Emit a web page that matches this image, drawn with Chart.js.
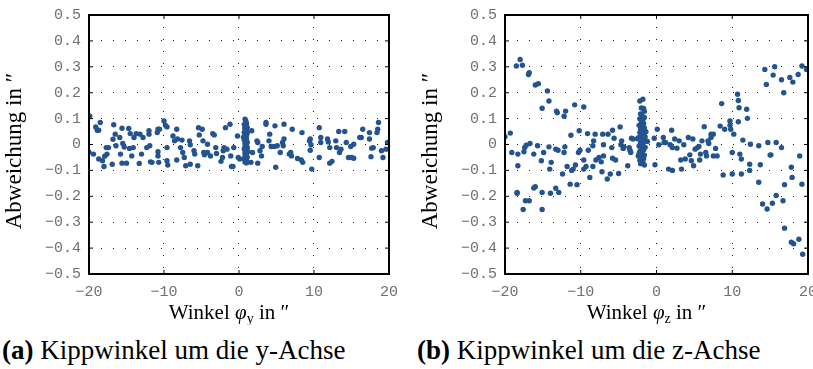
<!DOCTYPE html>
<html>
<head>
<meta charset="utf-8">
<script src="https://cdn.jsdelivr.net/npm/chart.js@4.4.1/dist/chart.umd.min.js"></script>
<style>
  html, body { margin: 0; padding: 0; background: #fff; overflow: hidden; }
  body { width: 813px; height: 369px; position: relative; }
  .box { position: absolute; top: -2px; height: 327px; }
  #boxA { left: 0; width: 407px; }
  #boxB { left: 416px; width: 410px; }
  .cap { position: absolute; top: 337px; font-family: 'Liberation Serif', 'DejaVu Serif', serif; font-size: 27px; line-height: 1; color: #000; white-space: nowrap; }
  #capA { left: 2px; }
  #capB { left: 417px; }
</style>
</head>
<body>
<div class="box" id="boxA"><canvas id="chartA"></canvas></div>
<div class="box" id="boxB"><canvas id="chartB"></canvas></div>
<div class="cap" id="capA"><b>(a)</b> Kippwinkel um die y-Achse</div>
<div class="cap" id="capB"><b>(b)</b> Kippwinkel um die z-Achse</div>
<script>
// ----- data -----
const xTicks = [-20, -10, 0, 10, 20];
const yTicks = [-0.5, -0.4, -0.3, -0.2, -0.1, 0, 0.1, 0.2, 0.3, 0.4, 0.5];

// (a) tilt around y axis
const leftX = [
  -19.9, -20, -19.4, -19.1, -18.9, -18.7, -18.5, -18.7, -18.2, -18, -17.9, -17.7, -17.4, -17.6,
  -16.9, -16.7, -16.8, -16.5, -16.4, -15.9, -15.8, -15.6, -15.5, -15.6, -15.0, -15.3, -14.7, -14.6,
  -14.5, -14.3, -14, -14.1, -13.7, -13.3, -13.2, -13.0, -12.8, -12.3, -12.0, -12.0, -11.9, -11.8,
  -11.6, -10.9, -10.8, -10.6, -10.8, -10.8, -10.7, -10, -9.8, -9.6, -9.6, -9.6, -9.5, -8.8, -8.6,
  -8.3, -8.3, -8.2, -7.8, -7.6, -7.5, -7.3, -7.1, -6.6, -6.5, -6.5, -6.0, -5.9, -5.5, -5.4, -5.3,
  -4.9, -4.8, -4.7, -4.6, -4.2, -4.2, -3.8, -3.5, -3.3, -3.1, -3, -2.4, -2.2, -2.1, -2, -1.8, -1.6,
  -1.2, -1.1, -1, -0.8, -0.7, -0.2, -0.1, 0.1, 1.7, 1.8, 1.6, 2.4, 2.5, 2.5, 2.8, 3.0, 3.1, 3.6,
  3.6, 4.0, 4.1, 4.3, 4.7, 4.9, 4.8, 5.1, 5.5, 5.8, 5.9, 6.0, 6.0, 6.7, 6.9, 7.0, 7.1, 7.8, 8.3,
  8.5, 8.4, 9.4, 9.5, 9.6, 9.5, 9.7, 10.7, 10.9, 10.9, 10.7, 11.8, 11.9, 12.1, 12.1, 12.4, 12.9,
  13.0, 13.3, 13.4, 13.6, 14.1, 14.3, 14.6, 14.9, 15.0, 15.3, 15.3, 16.1, 16.3, 16.5, 17.4, 17.4,
  17.6, 17.7, 17.9, 18.4, 18.5, 18.6, 19.0, 19.2, 19.6, 19.8,
  // dense column near 1
  0.8, 0.9, 1.0, 0.7, 0.9, 1.1, 0.8, 1.0, 0.9, 0.7, 1.1, 0.8, 1.0, 0.9, 0.8, 1.0, 0.7, 0.9, 1.1,
  0.8, 1.0, 0.9, 0.8, 1.1, 0.7, 0.9, 1.0, 0.8, 0.9, 1.0, 0.8, 1.1, 0.9, 0.7, 1.0, 0.9, 0.8, 1.0,
  0.9, 0.8, 0.6, 1.2
];
const leftY = [
  0.11, -0.03, -0.037, 0.068, 0.055, 0.055, 0.085, -0.056, -0.063, -0.085, -0.045, -0.012, -0.012, -0.037,
  -0.076, 0.076, 0.02, 0.04, -0.005, 0.027, -0.037, 0.063, 0.004, -0.072, -0.072, -0.01, 0.062, -0.015,
  0.042, -0.044, 0.027, -0.012, 0.042, -0.073, 0.04, -0.037, 0.027, -0.012, 0.053, 0.04, -0.005, -0.067,
  -0.069, 0.046, 0.059, 0.059, -0.044, -0.028, -0.069, 0.091, 0.074, -0.012, 0.068, -0.063, -0.079, 0.033, 0.014,
  0.059, -0.06, 0.021, -0.012, 0.017, -0.031, -0.05, -0.082, 0.014, -0.001, -0.076, -0.024, -0.037, -0.082, 0.065, 0.037,
  0.059, 0.014, -0.031, -0.04, -0.031, 0.001, -0.044, 0.042, 0.037, -0.012, -0.035, -0.065, -0.05, -0.024, -0.012, 0.065, -0.018,
  0.078, -0.044, -0.085, -0.085, -0.012, 0.033, -0.05, -0.056, 0.053, -0.031, -0.069, 0.014, 0.008, -0.072, -0.024, -0.044, -0.008, 0.085,
  0.078, 0.014, 0.04, -0.008, -0.008, -0.088, 0.072, -0.005, -0.031, 0.008, -0.005, 0.078, 0.021, -0.037, -0.031, -0.044, 0.059, -0.054, -0.06,
  -0.069, 0.046, 0.014, 0.021, -0.001, -0.022, -0.095, 0.065, 0.027, 0.008, -0.05, 0.021, 0.01, -0.012, -0.072, -0.065, 0.014,
  -0.012, 0.05, -0.031, -0.018, 0.05, 0.008, -0.05, -0.008, -0.05, -0.053, 0.001, 0.027, 0.027, 0.059, 0.021, 0.046,
  -0.047, -0.014, -0.012, 0.046, 0.059, 0.085, -0.024, -0.05, -0.018, 0.008,
  0.098, 0.087, 0.081, 0.077, 0.071, 0.066, 0.064, 0.057, 0.052, 0.047, 0.044, 0.038, 0.036, 0.031, 0.025, 0.022, 0.017, 0.013, 0.009,
  0.004, 0.001, -0.004, -0.009, -0.011, -0.017, -0.022, -0.025, -0.032, -0.036, -0.039, -0.045, -0.049, -0.053, -0.055, -0.062, -0.064, -0.068, -0.071,
  0.092, 0.061, 0.028, -0.027
];

// (b) tilt around z axis
const rightX = [
  -20, -19.3, -19.1, -18.5, -18.3, -18.3, -18, -17.7, -17.5, -17.4, -17.2, -16.9, -16.8, -16.7, -16.2,
  -16, -15.6, -15.7, -15.2, -15.1, -14.9, -14.4, -14.2, -14.2, -14.1, -13.9, -13.3, -13.2, -13.1, -13,
  -12.4, -12.2, -12.2, -12.1, -12.0, -11.8, -11.3, -11.2, -11, -10.8, -10.7, -10.3, -10.2, -10.1, -9.6,
  -9.6, -9.6, -9.3, -9.1, -9.0, -8.8, -8.4, -8.4, -8.3, -8.1, -8, -7.6, -7.3, -7.2, -7.1, -7, -7, -6.5,
  -6.4, -6.1, -5.9, -5.8, -5.8, -5.6, -5.4, -5, -4.8, -4.7, -4.6, -4.4, -4.3, -3.8, -3.6, -3.5, -3.4,
  -3.3, -3.1, -0.3, -0.2, 0.1, 0.3, 0.9, 1.0, 1.2, 1.8, 2.0, 2.1, 2.1, 1.6, 2.4, 2.7, 3.0, 3.2, 3.3,
  3.6, 3.8, 4.2, 4.4, 4.6, 4.8, 4.9, 5.1, 5.4, 5.6, 5.7, 5.8, 6.0, 6.3, 6.5, 6.6, 6.8, 6.9, 7.2, 7.2,
  7.5, 7.5, 7.8, 8.0, 8.4, 8.6, 8.8, 9.0, 9.7, 9.7, 9.8, 10.0, 10.0, 10.2, 10.7, 10.8, 10.8, 10.9,
  11.0, 11.2, 11.2, 11.4, 12.4, 11.9, 12.0, 12.3, 12.3, 13.7, 13.5, 14.3, 14.5, 14.7, 15.1, 15.4, 15.6,
  15.8, 16.5, 16.5, 16.8, 17.6, 18.0, 18.7, 18.9, 19.2, 19.8, 17.8, 17.9,
  -18.4, -18.4, -17.6, -17.3, -16.8, -16.2, -16.0, -15.1, -15.1, -14, -13.3, -12.9, -11.4, -10.5,
  13.5, 14.0, 14.6, 15.3, 15.8, 16.7, 16.9, 16.9, 17.8, 18.1, 18.8, 19.3, 19.2, 15.0,
  // dense column near -2
  -1.8, -2.2, -2.0, -1.7, -1.6, -2.1, -1.9, -1.6, -2.2, -1.8, -2.0, -1.7, -2.3, -1.9, -1.6, -2.1,
  -1.8, -2.2, -1.7, -2.0, -1.5, -2.4, -1.9, -1.6, -2.1, -1.8, -2.3, -1.5, -2.0, -1.7, -2.2, -1.9,
  -1.6, -2.4, -2.0, -1.7, -2.2, -1.8, -2.1, -1.6, -2.3, -1.4, -1.2, -2.5
];
const rightY = [
  0.03, 0.044, -0.031, 0.303, -0.037, -0.082, 0.328, 0.306, -0.028, -0.012, -0.003, 0.27, 0.277, 0.004, -0.037,
  0.23, 0.235, -0.005, -0.063, 0.14, -0.031, 0.207, 0.168, -0.009, -0.095, -0.069, -0.018, 0.129, 0.123, -0.022,
  -0.114, 0.109, -0.031, -0.009, 0.129, -0.085, 0.036, -0.1, -0.095, 0.153, -0.079, -0.031, 0.053, -0.022, -0.06,
  -0.095, 0.145, -0.085, 0.042, -0.022, -0.127, -0.085, -0.005, 0.014, 0.04, -0.06, -0.05, -0.067, -0.105, 0.04, -0.001, -0.044, -0.133,
  0.04, -0.114, -0.012, 0.055, -0.053, 0.024, -0.06, -0.112, 0.068, -0.001, 0.014, -0.015, -0.009, -0.082, -0.012, -0.022, -0.031,
  0.024, 0.021, 0.024, -0.078, 0.059, -0.001, 0.027, 0.008, 0.008, -0.001, 0.055, -0.012, -0.1, -0.095, 0.021, -0.014, 0.014, -0.06, -0.095,
  -0.001, -0.056, 0.027, -0.04, -0.063, 0.021, -0.082, -0.018, -0.012, -0.008, -0.06, -0.037, 0.014, 0.069, -0.031, -0.044, 0.014, 0.004, 0.027, 0.04,
  0.04, -0.044, -0.015, -0.044, 0.071, 0.158, -0.118, 0.059, 0.091, 0.074, 0.059, -0.031, -0.114, 0.04, 0.194, 0.17, 0.088, 0.142,
  -0.037, -0.056, -0.114, 0.017, 0.001, 0.136, 0.101, -0.076, -0.1, -0.078, -0.005, 0.29, 0.232, 0.008, -0.04, 0.268, 0.3,
  0.008, 0.25, -0.012, 0.2, 0.259, 0.241, 0.27, -0.044, 0.303, 0.29, -0.088, -0.127,
  -0.185, -0.188, -0.251, -0.217, -0.217, -0.168, -0.163, -0.185, -0.251, -0.188, -0.169, -0.185, -0.153, -0.155,
  -0.146, -0.23, -0.249, -0.227, -0.197, -0.217, -0.155, -0.323, -0.377, -0.383, -0.366, -0.424, -0.153, -0.041,
  0.175, 0.168, 0.141, 0.139, 0.128, 0.118, 0.109, 0.104, 0.099, 0.096, 0.087, 0.081, 0.074, 0.071, 0.064, 0.059,
  0.053, 0.046, 0.039, 0.034, 0.029, 0.026, 0.019, 0.013, 0.007, 0.001, -0.006, -0.011, -0.014, -0.021, -0.027, -0.034,
  -0.041, -0.044, -0.051, -0.054, -0.061, -0.066, -0.074, -0.079, -0.036, 0.049, 0.012, 0.022
];

const dotColor = '#24548f';
const tickFont = { family: "'Liberation Mono', 'DejaVu Sans Mono', monospace", size: 15 };
const serif = "'Liberation Serif', 'DejaVu Serif', serif";

function minus(s) { return String(s).replace('-', '\u2212'); }

// frame, inward ticks and axis titles
const framePlugin = {
  id: 'frame',
  afterDraw(chart, args, opts) {
    const { ctx, chartArea: a, scales } = chart;
    ctx.save();
    ctx.strokeStyle = '#000';
    ctx.lineWidth = 1;
    xTicks.forEach(v => {
      const px = scales.x.getPixelForValue(v);
      ctx.beginPath();
      ctx.moveTo(px, a.bottom); ctx.lineTo(px, a.bottom - 4);
      ctx.moveTo(px, a.top); ctx.lineTo(px, a.top + 4);
      ctx.stroke();
    });
    yTicks.forEach(v => {
      const py = scales.y.getPixelForValue(v);
      ctx.beginPath();
      ctx.moveTo(a.left, py); ctx.lineTo(a.left + 4, py);
      ctx.moveTo(a.right, py); ctx.lineTo(a.right - 4, py);
      ctx.stroke();
    });
    ctx.lineWidth = 2;
    ctx.strokeRect(a.left, a.top, a.right - a.left, a.bottom - a.top);

    // x title with subscript
    ctx.fillStyle = '#000';
    ctx.textBaseline = 'alphabetic';
    const parts = [
      { t: 'Winkel ', f: '21px ' + serif, dy: 0 },
      { t: '\u03C6', f: 'italic 21px ' + serif, dy: 0 },
      { t: opts.sub, f: '14px ' + serif, dy: 4 },
      { t: ' in \u2033', f: '21px ' + serif, dy: 0 }
    ];
    let total = 0;
    parts.forEach(p => { ctx.font = p.f; p.w = ctx.measureText(p.t).width; total += p.w; });
    let x = (a.left + a.right) / 2 - total / 2 - 10;
    const base = 321;
    parts.forEach(p => { ctx.font = p.f; ctx.fillText(p.t, x, base + p.dy); x += p.w; });

    // y title
    ctx.translate(21, 153);
    ctx.rotate(-Math.PI / 2);
    ctx.font = '23px ' + serif;
    ctx.textAlign = 'center';
    ctx.fillText('Abweichung in \u2033', 0, 0);
    ctx.restore();
  }
};

function makeChart(id, xs, ys, sub, padRight) {
  const pts = xs.map((x, i) => ({ x: x, y: ys[i] }));
  return new Chart(document.getElementById(id), {
    type: 'scatter',
    data: {
      datasets: [{
        data: pts,
        backgroundColor: dotColor,
        borderWidth: 0,
        pointRadius: 2.7,
        pointHoverRadius: 2.7
      }]
    },
    options: {
      responsive: true,
      maintainAspectRatio: false,
      animation: false,
      events: [],
      layout: { padding: { top: 12, right: padRight, bottom: 0, left: 0 } },
      plugins: { legend: { display: false }, tooltip: { enabled: false }, frame: { sub: sub } },
      scales: {
        x: {
          type: 'linear', min: -20, max: 20,
          afterBuildTicks: s => { s.ticks = xTicks.map(v => ({ value: v })); },
          afterFit: s => { s.height = 51; },
          border: { display: false, dash: [1, 11] },
          grid: { color: '#222', lineWidth: 1, drawTicks: false },
          ticks: { padding: 9, color: '#707070', font: tickFont, maxRotation: 0, callback: v => minus(v) }
        },
        y: {
          type: 'linear', min: -0.5, max: 0.5,
          afterBuildTicks: s => { s.ticks = yTicks.map(v => ({ value: v })); },
          afterFit: s => { s.width = 89; },
          border: { display: false, dash: [1, 11] },
          grid: { color: '#222', lineWidth: 1, drawTicks: false },
          ticks: { padding: 8, color: '#707070', font: tickFont, callback: v => v === 0 ? '0' : minus(v.toFixed(1)) }
        }
      }
    },
    plugins: [framePlugin]
  });
}

makeChart('chartA', leftX, leftY, 'y', 5);
makeChart('chartB', rightX, rightY, 'z', 8);
</script>
</body>
</html>
